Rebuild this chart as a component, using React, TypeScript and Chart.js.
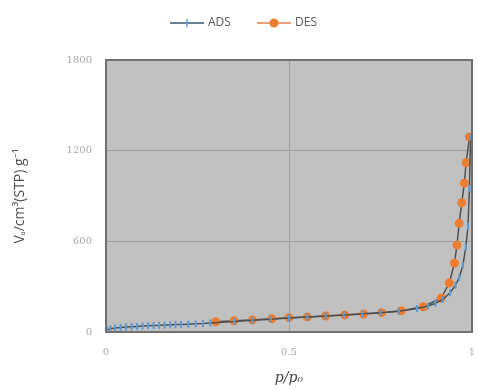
import React, { useEffect, useRef } from "react";
import { Chart, registerables } from "chart.js";

Chart.register(...registerables);

const adsP = [0.003, 0.012, 0.025, 0.04, 0.055, 0.07, 0.085, 0.1, 0.115, 0.13, 0.145, 0.16, 0.175, 0.19, 0.205, 0.225, 0.245, 0.265, 0.285, 0.35, 0.4, 0.45, 0.5, 0.55, 0.6, 0.65, 0.7, 0.75, 0.8, 0.85, 0.88, 0.9, 0.92, 0.94, 0.955, 0.965, 0.975, 0.983, 0.989, 0.993, 0.996];
const adsV = [12, 22, 27, 30, 33, 35, 37, 39, 41, 43, 44, 46, 47, 49, 50, 52, 54, 56, 60, 70, 77, 85, 92, 99, 106, 113, 120, 128, 138, 155, 172, 190, 215, 260, 310, 360, 440, 560, 700, 950, 1290];

const desP = [0.993, 0.984, 0.979, 0.972, 0.965, 0.959, 0.952, 0.938, 0.916, 0.867, 0.807, 0.753, 0.704, 0.652, 0.6, 0.55, 0.5, 0.453, 0.4, 0.35, 0.3];
const desV = [1290, 1120, 985, 855, 720, 576, 456, 324, 225, 167, 141, 128, 119, 112, 106, 100, 95, 88, 80, 74, 68];

const xTicks = [0, 0.5, 1];
const yTicks = [0, 600, 1200, 1800];

const seriesNames = ["ADS", "DES"];
const lineColor = "#505050";
const adsColor = "#5b9bd5";
const desColor = "#ed7d31";

const plotBg = {
  id: "plotBg",
  beforeDraw(chart: any) {
    const { ctx, chartArea } = chart;
    ctx.save();
    ctx.fillStyle = "#c0c0c0";
    ctx.fillRect(chartArea.left, chartArea.top, chartArea.right - chartArea.left, chartArea.bottom - chartArea.top);
    ctx.restore();
  },
  afterDatasetsDraw(chart: any) {
    const { ctx, chartArea } = chart;
    ctx.save();
    ctx.strokeStyle = "#707070";
    ctx.lineWidth = 2;
    ctx.strokeRect(chartArea.left, chartArea.top, chartArea.right - chartArea.left, chartArea.bottom - chartArea.top);
    ctx.restore();
  },
  afterDraw(chart: any) {
    const { ctx } = chart;
    ctx.save();
    ctx.font = "12px 'Open Sans'";
    ctx.textBaseline = "middle";
    ctx.textAlign = "left";
    const y = 23;
    const items = [
      { x: 170, name: seriesNames[0], line: "#6b7f95", color: adsColor, kind: "ads" },
      { x: 257, name: seriesNames[1], line: "#e9a07a", color: desColor, kind: "des" },
    ];
    for (const it of items) {
      ctx.strokeStyle = it.line;
      ctx.lineWidth = 2;
      ctx.beginPath();
      ctx.moveTo(it.x, y);
      ctx.lineTo(it.x + 34, y);
      ctx.stroke();
      const mx = it.x + 17;
      if (it.kind === "ads") {
        ctx.strokeStyle = it.color;
        ctx.lineWidth = 1.5;
        ctx.beginPath();
        ctx.moveTo(mx, y - 4);
        ctx.lineTo(mx, y + 4);
        ctx.stroke();
      } else {
        ctx.fillStyle = it.color;
        ctx.beginPath();
        ctx.arc(mx, y, 4.5, 0, Math.PI * 2);
        ctx.fill();
      }
      ctx.fillStyle = "#595959";
      ctx.fillText(it.name, it.x + 38, y);
    }
    ctx.restore();
  },
};

export default function App() {
  const ref = useRef<HTMLCanvasElement>(null);
  useEffect(() => {
    if (!ref.current) return;
    const chart = new Chart(ref.current, {
      type: "scatter",
      data: {
        datasets: [
          {
            label: seriesNames[0],
            data: adsP.map((p, i) => ({ x: p, y: adsV[i] })),
            showLine: true,
            borderColor: lineColor,
            borderWidth: 1.5,
            pointStyle: "line",
            rotation: 90,
            pointRadius: 3.5,
            pointBorderWidth: 2,
            pointBorderColor: adsColor,
            pointBackgroundColor: adsColor,
          },
          {
            label: seriesNames[1],
            data: desP.map((p, i) => ({ x: p, y: desV[i] })),
            showLine: true,
            borderColor: lineColor,
            borderWidth: 1.5,
            pointStyle: "circle",
            pointRadius: 4.5,
            pointBorderWidth: 0,
            pointBorderColor: desColor,
            pointBackgroundColor: desColor,
          },
        ],
      },
      options: {
        animation: false,
        responsive: true,
        maintainAspectRatio: false,
        layout: { padding: { left: 0, right: 5, top: 60, bottom: 0 } },
        plugins: {
          tooltip: { enabled: false },
          legend: { display: false },
        },
        scales: {
          x: {
            type: "linear",
            min: 0,
            max: 1,
            afterBuildTicks: (axis: any) => {
              axis.ticks = xTicks.map((v) => ({ value: v }));
            },
            afterFit: (axis: any) => {
              axis.height = 57;
              axis.paddingLeft = 0;
              axis.paddingRight = 0;
            },
            grid: { color: "#a0a0a0", lineWidth: 1, drawTicks: false },
            border: { display: false },
            ticks: {
              color: "#a8a8a8",
              padding: 14,
              font: { family: "DejaVu Serif", size: 10 },
              callback: (v: any) => String(v),
            },
            title: {
              display: true,
              text: "p/p₀",
              color: "#444",
              font: { family: "DejaVu Serif", size: 14, style: "italic" },
              padding: { top: 0, bottom: 2 },
            },
          },
          y: {
            type: "linear",
            min: 0,
            max: 1800,
            afterBuildTicks: (axis: any) => {
              axis.ticks = yTicks.map((v) => ({ value: v }));
            },
            afterFit: (axis: any) => {
              axis.width = 106;
              axis.paddingTop = 0;
              axis.paddingBottom = 0;
            },
            grid: { color: "#a0a0a0", lineWidth: 1, drawTicks: false },
            border: { display: false },
            ticks: {
              color: "#a8a8a8",
              padding: 14,
              font: { family: "DejaVu Serif", size: 10 },
              callback: (v: any) => String(v),
            },
            title: {
              display: true,
              text: "Vₐ/cm³(STP) g⁻¹",
              color: "#505050",
              font: { family: "Open Sans", size: 14 },
              padding: { top: 12, bottom: 0 },
            },
          },
        },
      },
      plugins: [plotBg],
    } as any);
    return () => chart.destroy();
  }, []);
  return (
    <div style={{ position: "fixed", left: 0, top: 0, width: 478, height: 389, background: "#fff" }}>
      <canvas ref={ref} />
    </div>
  );
}
